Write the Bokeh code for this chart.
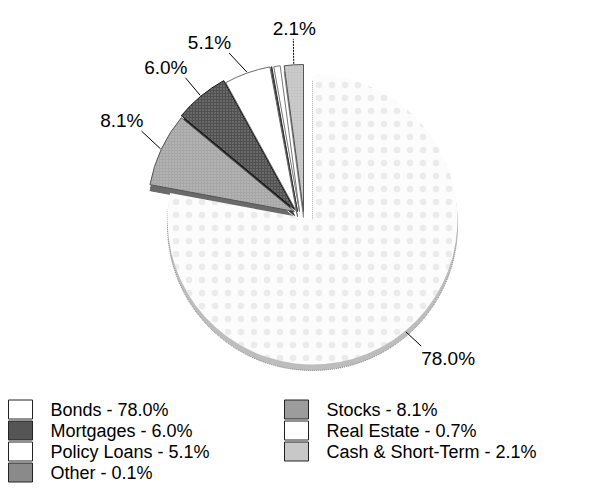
import numpy as np
from bokeh.plotting import figure
from bokeh.models import Range1d, ColumnDataSource
from bokeh.embed import file_html
from bokeh.resources import INLINE
from bokeh.core.properties import value

# ---------------- data ----------------
categories = ["Bonds", "Stocks", "Mortgages", "Policy Loans", "Other", "Real Estate", "Cash & Short-Term"]
values = [78.0, 8.1, 6.0, 5.1, 0.1, 0.7, 2.1]
labelled = ["Bonds", "Stocks", "Mortgages", "Policy Loans", "Cash & Short-Term"]
legend_left = ["Bonds", "Mortgages", "Policy Loans", "Other"]
legend_right = ["Stocks", "Real Estate", "Cash & Short-Term"]

# ---------------- styles ----------------
W, H = 590, 489
FONT = "Liberation Sans"
fill = {"Bonds": "#fcfcfc", "Stocks": "#a6a6a6", "Mortgages": "#505050", "Policy Loans": "#ffffff",
        "Other": "#7a7a7a", "Real Estate": "#ffffff", "Cash & Short-Term": "#c4c4c4"}
rim = {"Bonds": "#bdbdbd", "Stocks": "#6a6a6a", "Mortgages": "#2a2a2a", "Policy Loans": "#ffffff",
       "Other": "#555555", "Real Estate": "#ffffff", "Cash & Short-Term": "#8a8a8a"}
edge = {"Bonds": None, "Stocks": "#555555", "Mortgages": "#111111", "Policy Loans": "#6a6a6a",
        "Other": "#333333", "Real Estate": "#777777", "Cash & Short-Term": "#555555"}
legend_fill = {"Bonds": "#ffffff", "Stocks": "#9c9c9c", "Mortgages": "#555555", "Policy Loans": "#ffffff",
               "Other": "#8a8a8a", "Real Estate": "#ffffff", "Cash & Short-Term": "#c8c8c8"}
# apex of each slice (exploded pie), screen px (x right, y down)
base = (296, 212)
explode = {"Bonds": (16, 7), "Stocks": (-2, -1), "Mortgages": (-2, -3), "Policy Loans": (0, -1),
           "Other": (1, -1), "Real Estate": (3, -1), "Cash & Short-Term": (7, -1)}
radius = {"Bonds": 145}
R = 147
RIM = 6
# leader line direction (degrees, counter-clockwise from east) and length
leader_dir = {"Bonds": -43, "Stocks": 137, "Mortgages": 130, "Policy Loans": 133, "Cash & Short-Term": 91}
leader_len = {"Bonds": 21, "Stocks": 26, "Mortgages": 23, "Policy Loans": 26, "Cash & Short-Term": 25}


def Y(y):
    return H - y


p = figure(width=W, height=H, x_range=Range1d(0, W), y_range=Range1d(0, H),
           output_backend="svg", toolbar_location=None, min_border=0,
           x_axis_type=None, y_axis_type=None)
p.grid.visible = False
p.outline_line_color = None
p.background_fill_color = "white"
p.border_fill_color = "white"

total = sum(values)
# slices go counter-clockwise from 12 o'clock, starting with the last category
angles = {}
start = 90.0
for cat, v in reversed(list(zip(categories, values))):
    end = start + v / total * 360.0
    angles[cat] = (start, end)
    start = end

# back to front draw order
order = ["Cash & Short-Term", "Real Estate", "Other", "Policy Loans", "Mortgages", "Stocks", "Bonds"]
for cat in order:
    a0, a1 = angles[cat]
    cx = base[0] + explode[cat][0]
    cy = base[1] + explode[cat][1]
    r = radius.get(cat, R)
    # 3-D rim
    p.wedge(x=cx, y=Y(cy + RIM), radius=r, start_angle=np.radians(a0), end_angle=np.radians(a1),
            fill_color=rim[cat], line_color=rim[cat] if cat != "Bonds" else "#7a7a7a",
            line_width=1, line_dash="solid" if cat != "Bonds" else "1 1")
    # top face
    kw = dict(x=cx, y=Y(cy), radius=r, start_angle=np.radians(a0), end_angle=np.radians(a1),
              fill_color=fill[cat], line_color=edge[cat], line_width=1)
    if cat in ("Stocks", "Mortgages", "Cash & Short-Term"):
        kw.update(hatch_pattern="dot", hatch_scale=3, hatch_color="#ffffff", hatch_alpha=0.35)
    if cat == "Bonds":
        kw.update(hatch_pattern="dot", hatch_scale=13, hatch_color="#c4c4c4", hatch_alpha=0.3)
    p.wedge(**kw)

# labels with leader lines
for cat in labelled:
    a0, a1 = angles[cat]
    mid = np.radians((a0 + a1) / 2.0)
    cx = base[0] + explode[cat][0]
    cy = base[1] + explode[cat][1]
    r = radius.get(cat, R)
    x0, y0 = cx + (r + 1) * np.cos(mid), cy - (r + 1) * np.sin(mid)
    ld = np.radians(leader_dir[cat])
    dx, dy = np.cos(ld), -np.sin(ld)
    x1, y1 = x0 + leader_len[cat] * dx, y0 + leader_len[cat] * dy
    p.line([x0, x1], [Y(y0), Y(y1)], line_color="black", line_width=1,
           line_dash="2 1" if cat == "Cash & Short-Term" else "solid")
    if abs(dx) < 0.2:
        align = "center"
    else:
        align = "left" if dx > 0 else "right"
    base_line = "top" if dy > 0 else "bottom"
    tx = x1 + (0 if dx > 0.2 else (2 if dx < -0.2 else 1))
    ty = y1 + (2 if dy > 0 else 0)
    txt = "%.1f%%" % values[categories.index(cat)]
    p.text(x=[tx], y=[Y(ty)], text=[txt], text_font=value(FONT), text_font_size="19px",
           text_align=align, text_baseline=base_line, text_color="black")

# legend
row_y = [409, 430, 451, 472]
for col_x, names in ((8, legend_left), (284, legend_right)):
    src = ColumnDataSource(dict(
        x=[col_x + 12] * len(names), y=[Y(row_y[i]) for i in range(len(names))],
        c=[legend_fill[n] for n in names],
        tx=[col_x + 42] * len(names),
        t=["%s - %.1f%%" % (n, values[categories.index(n)]) for n in names]))
    p.rect(x="x", y="y", width=24, height=19, fill_color="c", line_color="#222222",
           line_width=1, source=src)
    p.text(x="tx", y="y", text="t", text_font=value(FONT), text_font_size="18px",
           text_align="left", text_baseline="middle", text_color="black", source=src)

open("out.html", "w").write(file_html(p, INLINE))
